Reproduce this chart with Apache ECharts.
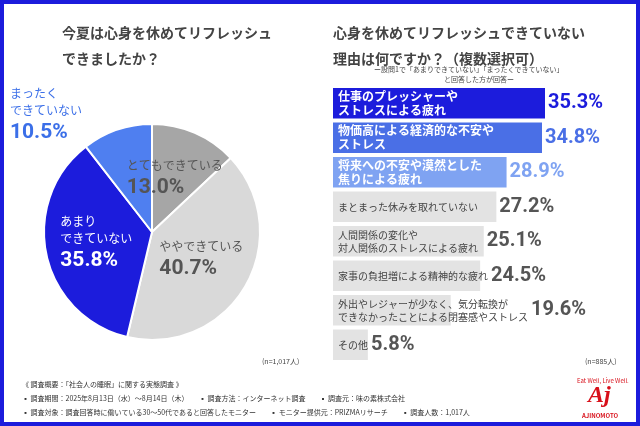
<!DOCTYPE html>
<html><head><meta charset="utf-8">
<script src="https://cdn.jsdelivr.net/npm/echarts@6/dist/echarts.min.js"></script>
<style>html,body{margin:0;padding:0;background:#fff}#c{width:640px;height:426px}</style>
</head><body><div id="c"></div>
<script>
var pieNames = ['とてもできている', 'ややできている', 'あまり\nできていない', 'まったく\nできていない'];
var pieValues = [13.0, 40.7, 35.8, 10.5];
var pieColors = ['#a6a6a6', '#d9d9d9', '#1c1cdc', '#4f7ff0'];

var barNames = ['仕事のプレッシャーや\nストレスによる疲れ', '物価高による経済的な不安や\nストレス', '将来への不安や漠然とした\n焦りによる疲れ',
  'まとまった休みを取れていない', '人間関係の変化や\n対人関係のストレスによる疲れ', '家事の負担増による精神的な疲れ',
  '外出やレジャーが少なく、気分転換が\nできなかったことによる閉塞感やストレス', 'その他'];
var barValues = [35.3, 34.8, 28.9, 27.2, 25.1, 24.5, 19.6, 5.8];
var barColors = ['#1c1cdc', '#4a6fe6', '#7fa3f2', '#e3e3e3', '#e3e3e3', '#e3e3e3', '#e3e3e3', '#e3e3e3'];
var valColors = ['#1c1cdc', '#4a6fe6', '#7fa3f2', '#555', '#555', '#555', '#555', '#555'];

var chart = echarts.init(document.getElementById('c'));
var F = '"Noto Sans CJK JP", sans-serif';
var GL = 333, GW = 212;

// measure label text so the value can sit after whichever is longer
var ctx = document.createElement('canvas').getContext('2d');
function textW(s, size, weight) {
  ctx.font = (weight || 'normal') + ' ' + size + 'px "Noto Sans CJK JP"';
  return Math.max.apply(null, s.split('\n').map(function (l) { return ctx.measureText(l).width; }));
}

var pieData = pieValues.map(function (v, i) {
  var dark = i >= 2;
  var c = dark ? '#fff' : '#555';
  var d = {
    name: pieNames[i], value: v,
    itemStyle: { color: pieColors[i] },
    label: {
      formatter: function (p) { return '{n|' + p.name + '}\n{v|' + p.value.toFixed(1) + '%}'; },
      rich: {
        n: { fontSize: 12, fontFamily: F, color: c, lineHeight: 17, align: 'left' },
        v: { fontSize: 21, fontFamily: 'Roboto', fontWeight: 'bold', color: c, lineHeight: 28, align: 'left' }
      }
    }
  };
  if (i == 3) {
    d.label.position = 'outside';
    d.label.overflow = 'none';
    d.label.rich.n.color = '#3b6fe8';
    d.label.rich.v.color = '#3b6fe8';
    d.labelLine = { show: false };
  }
  return d;
});

var nameLabelSize = function (i) { return i < 3 ? 12 : 10; };

chart.setOption({
  animation: false,
  graphic: [
    { type: 'rect', shape: { x: 2, y: 2, width: 636, height: 422 }, style: { fill: 'none', stroke: '#1c1cdc', lineWidth: 4 } },
    { type: 'text', left: 62, top: 20, style: { text: '今夏は心身を休めてリフレッシュ\nできましたか？', font: 'bold 14px ' + F, fill: '#444', lineHeight: 26 } },
    { type: 'text', left: 333, top: 20, style: { text: '心身を休めてリフレッシュできていない\n理由は何ですか？（複数選択可）', font: 'bold 14px ' + F, fill: '#444', lineHeight: 26 } },
    { type: 'text', left: 374, top: 66, style: { text: 'ー設問1で「あまりできていない」「まったくできていない」', font: '7px ' + F, fill: '#444' } },
    { type: 'text', left: 444, top: 76, style: { text: 'と回答した方が回答ー', font: '7px ' + F, fill: '#444' } },
    { type: 'text', left: 262, top: 358, style: { text: '(n=1,017人)', font: '7px ' + F, fill: '#444' } },
    { type: 'text', left: 585, top: 358, style: { text: '(n=885人)', font: '7px ' + F, fill: '#444' } },
    { type: 'text', left: 22, top: 381, style: { text: '《 調査概要：「社会人の睡眠」に関する実態調査 》', font: '7px ' + F, fill: '#333' } },
    { type: 'text', left: 22, top: 395, style: { text: '▪ 調査期間：2025年8月13日（水）～8月14日（木）　　▪ 調査方法：インターネット調査　　▪ 調査元：味の素株式会社', font: '7px ' + F, fill: '#333' } },
    { type: 'text', left: 22, top: 409, style: { text: '▪ 調査対象：調査回答時に働いている30～50代であると回答したモニター　　▪ モニター提供元：PRIZMAリサーチ　　▪ 調査人数：1,017人', font: '7px ' + F, fill: '#333' } },
    { type: 'text', left: 577, top: 378, style: { text: 'Eat Well, Live Well.', font: '6px ' + F, fill: '#d8101a' } },
    { type: 'text', left: 588, top: 384, style: { text: 'Aj', font: 'italic bold 24px Liberation Serif', fill: '#d8101a' } },
    { type: 'text', left: 582, top: 413, style: { text: 'AJINOMOTO', font: 'bold 6px ' + F, fill: '#d8101a' } }
  ],
  grid: { left: GL, top: 86, width: GW, height: 276 },
  xAxis: { type: 'value', min: 0, max: 35.3, show: false },
  yAxis: { type: 'category', data: barNames, inverse: true, show: false },
  series: [{
    type: 'pie',
    center: [152, 232],
    radius: [0, 108],
    startAngle: 90,
    clockwise: true,
    itemStyle: { borderColor: '#fff', borderWidth: 2 },
    label: { position: 'inside' },
    data: pieData
  }, {
    type: 'bar',
    barCategoryGap: '12%',
    data: barValues.map(function (v, i) {
      return {
        value: v, itemStyle: { color: barColors[i] },
        label: {
          show: true, position: 'insideLeft', overflow: 'none',
          formatter: '{b}', fontFamily: F, fontSize: nameLabelSize(i), lineHeight: i < 3 ? 14 : 13,
          color: i < 3 ? '#fff' : '#444', fontWeight: i < 3 ? 'bold' : 'normal'
        }
      };
    })
  }, {
    type: 'bar',
    barGap: '-100%',
    barCategoryGap: '12%',
    itemStyle: { color: 'transparent' },
    data: barValues.map(function (v, i) {
      var barEnd = v / 35.3 * GW;
      var txtEnd = 5 + textW(barNames[i], nameLabelSize(i), i < 3 ? 'bold' : 'normal');
      return {
        value: v,
        label: {
          show: true, position: 'right', formatter: '{c}%', fontFamily: 'Roboto', fontWeight: 'bold',
          fontSize: 20, color: valColors[i], distance: 3, offset: [Math.max(0, txtEnd - barEnd), 0]
        }
      };
    })
  }]
});
</script></body></html>
